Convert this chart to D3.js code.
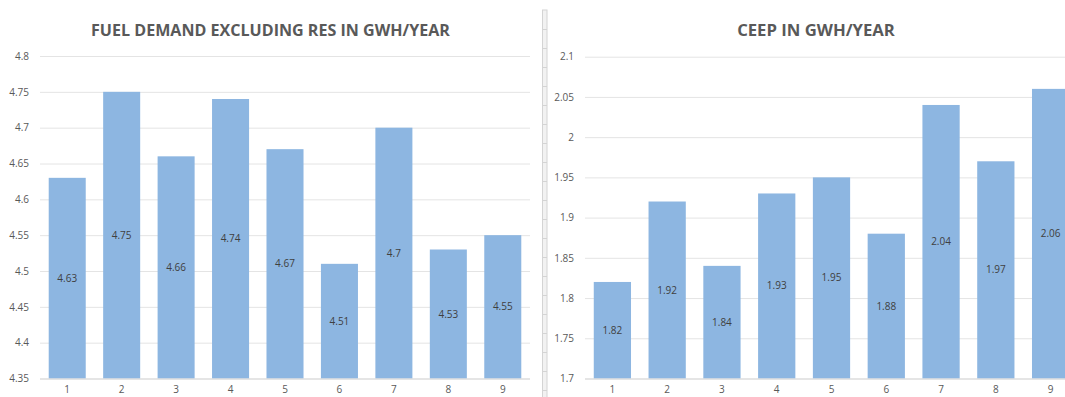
<!DOCTYPE html>
<html>
<head>
<meta charset="utf-8">
<script src="https://cdn.jsdelivr.net/npm/d3@7"></script>
<style>
  html, body { margin: 0; padding: 0; background: #ffffff; }
  svg { display: block; }
</style>
</head>
<body>
<svg id="chart" width="1065" height="397"></svg>
<script>
// Scenario numbers 1..9
const categories = ["1", "2", "3", "4", "5", "6", "7", "8", "9"];

// Fuel demand excluding RES (GWh/year)
const fuelDemand = [4.63, 4.75, 4.66, 4.74, 4.67, 4.51, 4.70, 4.53, 4.55];
const fuelTicks = [4.35, 4.4, 4.45, 4.5, 4.55, 4.6, 4.65, 4.7, 4.75, 4.8];

// CEEP (GWh/year)
const ceep = [1.82, 1.92, 1.84, 1.93, 1.95, 1.88, 2.04, 1.97, 2.06];
const ceepTicks = [1.7, 1.75, 1.8, 1.85, 1.9, 1.95, 2, 2.05, 2.1];

const titles = ["FUEL DEMAND EXCLUDING RES IN GWH/YEAR", "CEEP IN GWH/YEAR"];

const svg = d3.select("#chart");
const FONT = "'Open Sans', 'Liberation Sans', sans-serif";
const BAR = "#8db6e1";
const fmt = v => String(+v.toFixed(2));

function drawPanel(opts) {
  const { values, ticks, title, left, right, top, bottom, titleX, titleW } = opts;
  const g = svg.append("g");

  const x = d3.scaleBand()
    .domain(categories)
    .range([left, right])
    .paddingInner(0.32)
    .paddingOuter(0.16);

  const y = d3.scaleLinear()
    .domain([ticks[0], ticks[ticks.length - 1]])
    .range([bottom, top]);

  // gridlines + value labels on the left
  const yAxis = g.append("g")
    .attr("transform", `translate(${left},0)`)
    .call(d3.axisLeft(y).tickValues(ticks).tickFormat(fmt)
      .tickSize(-(Math.min(right, 1065) - left)).tickPadding(11));
  yAxis.select(".domain").remove();
  yAxis.selectAll(".tick line").attr("stroke", "#e4e4e4").attr("stroke-width", 1);
  yAxis.selectAll(".tick text")
    .attr("fill", "#595959").style("font-family", FONT).style("font-size", "10px");

  // bars
  g.append("g").selectAll("rect")
    .data(values)
    .join("rect")
    .attr("x", (d, i) => x(categories[i]))
    .attr("width", x.bandwidth())
    .attr("y", d => y(d))
    .attr("height", d => y(ticks[0]) - y(d))
    .attr("fill", BAR);

  // category axis
  const xAxis = g.append("g")
    .attr("transform", `translate(0,${bottom})`)
    .call(d3.axisBottom(x).tickSize(0).tickPadding(7.5));
  xAxis.select(".domain").attr("stroke", "#d9d9d9")
    .attr("d", `M${left},0.5H${Math.min(right, 1065)}`);
  xAxis.selectAll(".tick text")
    .attr("fill", "#595959").style("font-family", FONT).style("font-size", "10px");

  // data labels, centred inside each bar
  g.append("g").selectAll("text")
    .data(values)
    .join("text")
    .attr("x", (d, i) => x(categories[i]) + x.bandwidth() / 2)
    .attr("y", d => (y(d) + y(ticks[0])) / 2)
    .attr("dy", "0.35em")
    .attr("text-anchor", "middle")
    .attr("fill", "#404040")
    .style("font-family", FONT)
    .style("font-size", "10px")
    .text(fmt);

  // title
  const t = g.append("text")
    .attr("x", titleX)
    .attr("y", 36)
    .attr("text-anchor", "middle")
    .attr("fill", "#595959")
    .style("font-family", FONT)
    .style("font-weight", "700")
    .style("font-size", "15px")
    .text(title);
  const w = t.node().getComputedTextLength();
  if (w > 0) t.style("font-size", (15 * titleW / w).toFixed(2) + "px");
}

drawPanel({
  values: fuelDemand, ticks: fuelTicks, title: titles[0],
  left: 40, right: 530, top: 56, bottom: 378.5, titleX: 270.5, titleW: 359
});

drawPanel({
  values: ceep, ticks: ceepTicks, title: titles[1],
  left: 585, right: 1078, top: 56.7, bottom: 378.5, titleX: 816, titleW: 158
});

// divider strip between the two charts
const strip = svg.append("g");
strip.append("rect")
  .attr("x", 542.5).attr("y", 10).attr("width", 4.5).attr("height", 390)
  .attr("fill", "#f2f2f2").attr("stroke", "#d4d4d4").attr("stroke-width", 1);
strip.selectAll("line")
  .data(d3.range(29.5, 397, 19))
  .join("line")
  .attr("x1", 542.5).attr("x2", 547)
  .attr("y1", d => d).attr("y2", d => d)
  .attr("stroke", "#d4d4d4");
</script>
</body>
</html>
